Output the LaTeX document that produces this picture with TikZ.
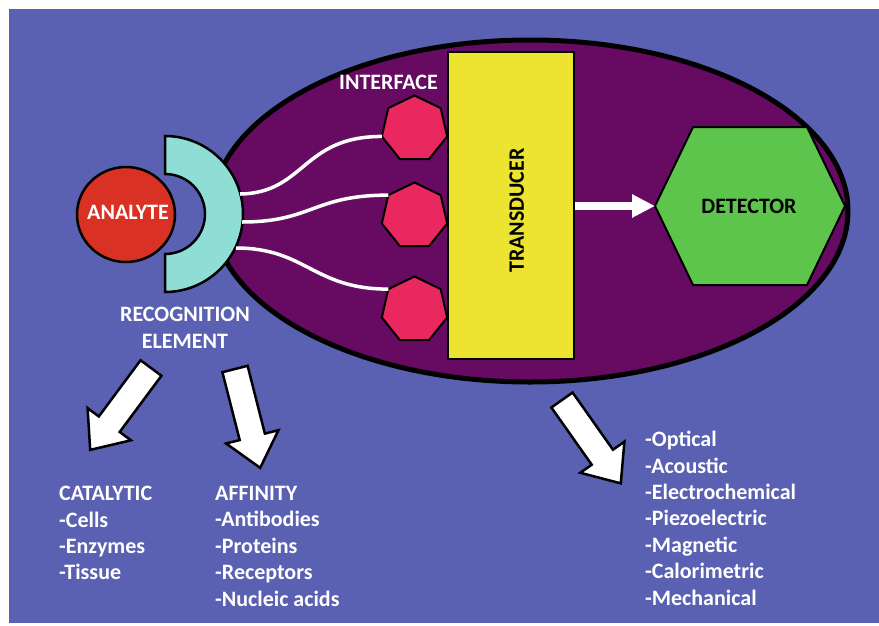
\documentclass[tikz,border=0pt]{standalone}
\usepackage{fontspec}
\setmainfont{Carlito}
\usepackage{xcolor}
\usepackage{tikz}
\usetikzlibrary{positioning,shapes.geometric,arrows.meta}
\definecolor{bgblue}{RGB}{90,96,178}
\definecolor{bodypurple}{RGB}{102,10,98}
\definecolor{analytered}{RGB}{217,49,35}
\definecolor{recogcyan}{RGB}{143,222,214}
\definecolor{sitepink}{RGB}{233,40,96}
\definecolor{transyellow}{RGB}{237,228,50}
\definecolor{detgreen}{RGB}{94,197,76}
\tikzset{every node/.style={font=\bfseries\fontsize{22}{26.4}\selectfont}}

\begin{document}
\begin{tikzpicture}[
x=1pt, y=-1pt,
whitetext/.style={text=white, inner sep=0pt, align=left},
wire/.style={white, line width=3.5pt},
site/.style={
regular polygon,
regular polygon sides=7,
minimum size=67pt,
inner sep=0pt, outer sep=0pt,
draw, line width=2pt,
fill=sitepink
},
outline/.style={draw=black, line width=2pt},
bigarrow/.style={draw=black, line width=2.5pt, fill=white, line join=miter},
readout/.style={white, line width=8pt, -{Triangle[length=23pt,width=22pt]}}
]

\useasboundingbox (0,0) rectangle (879,625);
\fill[white] (0,0) rectangle (879,625);
\fill[bgblue] (9,9) rectangle (879,623);

% sensor body
\node[ellipse, draw, line width=5pt, fill=bodypurple,
minimum width=636pt, minimum height=342pt, inner sep=0pt] (body) at (530,211) {};

% recognition element
\draw[outline, line width=2.5pt, fill=recogcyan]
(165,136) arc[start angle=-90, end angle=90, radius=78]
-- (165,254) arc[start angle=90, end angle=-90, radius=40] -- cycle;
\coordinate (re-1) at (240,194);
\coordinate (re-2) at (242,222);
\coordinate (re-3) at (236,248);

\node[ellipse, outline, line width=2.5pt, fill=analytered,
minimum width=98pt, minimum height=95pt, inner sep=0pt] (analyte) at (126,214.5) {};
\node[whitetext] (analyte-lbl) at (128,212.5) {ANALYTE};

\node[whitetext, align=center, anchor=north] (recog-lbl) at (185,307)
{RECOGNITION\\ELEMENT};

% interface sites
\node[site] (h1) at (414.5,129) {};
\node[site] (h2) at (414.5,216) {};
\node[site] (h3) at (414.5,310) {};

\draw[wire] (re-1) .. controls +(65,-1) and +(-80,0) .. (h1.corner 3);
\draw[wire] (re-2) .. controls +(70,0) and +(-75,0) .. (h2.corner 2);
\draw[wire] (re-3) .. controls +(70,0) and +(-75,0) .. (h3.corner 2);

\node[whitetext, anchor=north] (iface-lbl) at (388.5,75) {INTERFACE};

% transducer and detector
\node[outline, fill=transyellow, minimum width=126pt, minimum height=307pt,
inner sep=0pt] (trans) at (511,205.5) {};
\node[rotate=90, inner sep=0pt] (trans-lbl) at (516.7,210.5) {TRANSDUCER};

\draw[outline, fill=detgreen] (655,206) -- (693,127) -- (807,127)
-- (845,206) -- (807,285) -- (693,285) -- cycle;
\coordinate (det-w) at (655,206);
\node[inner sep=0pt] (det) at (749,206.5) {DETECTOR};

\draw[readout] (trans.east |- det-w) -- (det-w);

% block arrows
\foreach \sx/\sy/\ang in {151/368/-126.6, 235/369/-75.7, 562/400/-54.8}
\draw[bigarrow, shift={(\sx,\sy)}, rotate=\ang]
(0,13) -- (70,13) -- (70,27) -- (102,0) -- (70,-27) -- (70,-13) -- (0,-13) -- cycle;

% lists
\node[whitetext, anchor=north west] (catalytic) at (59,486)
{CATALYTIC\\-Cells\\-Enzymes\\-Tissue};
\node[whitetext, anchor=north west] (affinity) at (215,486)
{AFFINITY\\-Antibodies\\-Proteins\\-Receptors\\-Nucleic acids};
\node[whitetext, anchor=north west] (methods) at (645,431)
{-Optical\\-Acoustic\\-Electrochemical\\-Piezoelectric\\-Magnetic\\-Calorimetric\\-Mechanical};

\end{tikzpicture}
\end{document}
